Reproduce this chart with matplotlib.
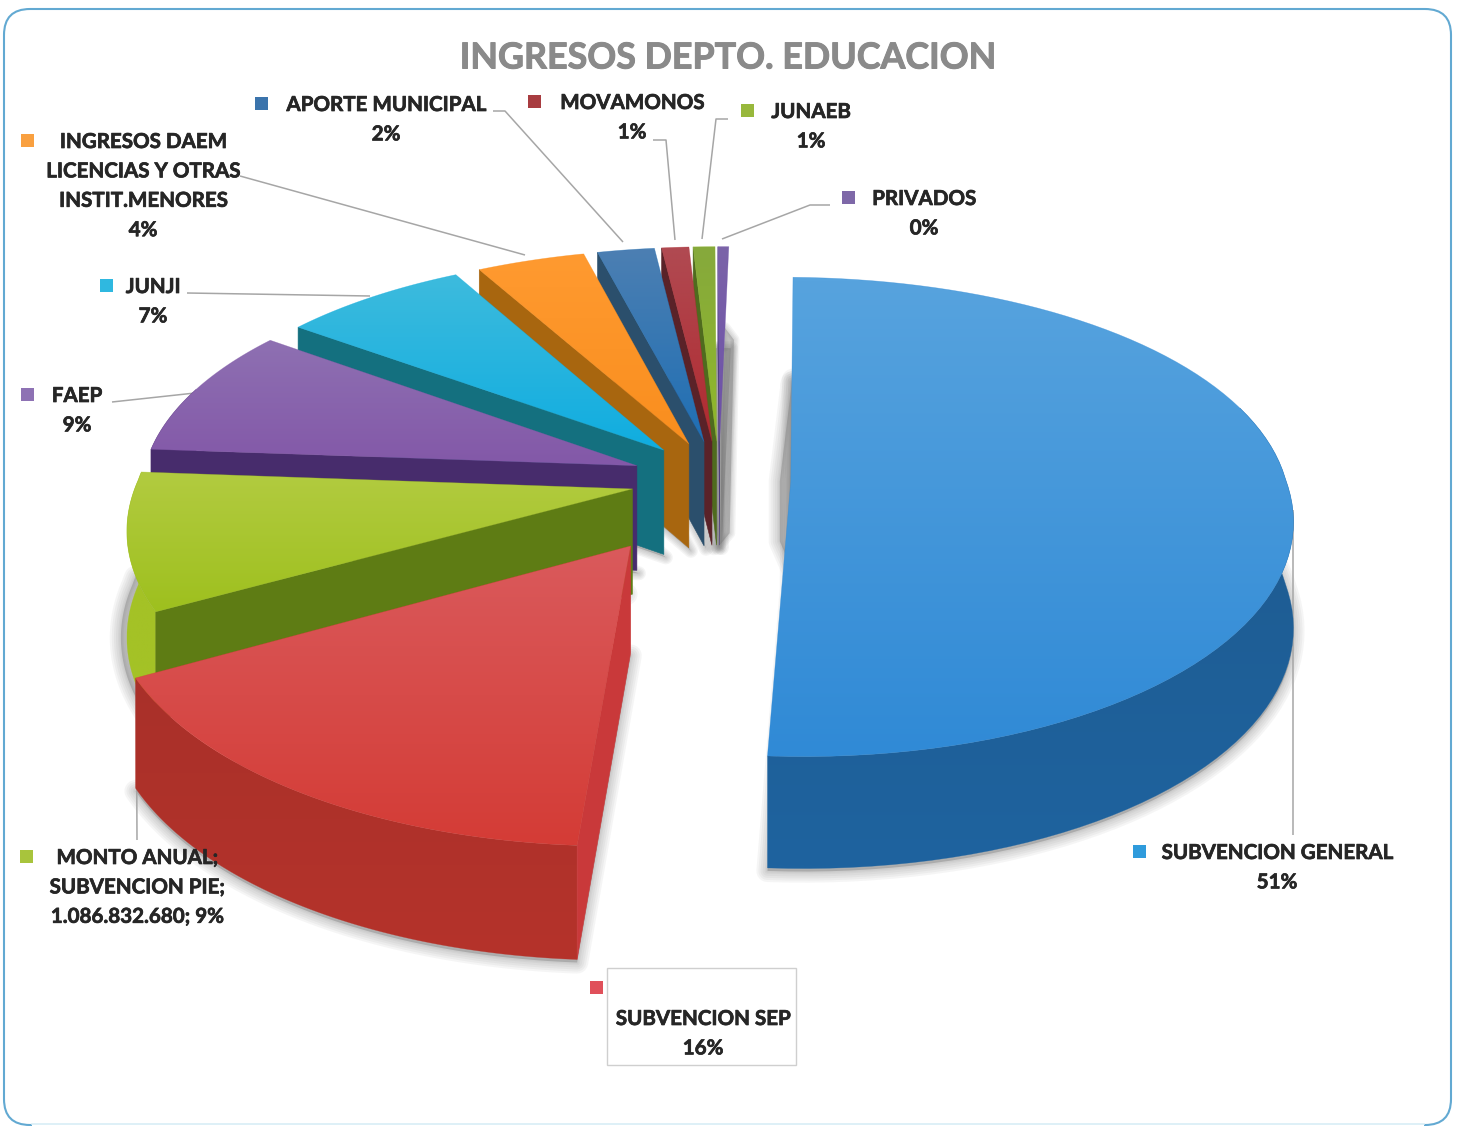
import numpy as np
import matplotlib
matplotlib.use("Agg")
import matplotlib.pyplot as plt
import matplotlib.patheffects as pe
from matplotlib.patches import Polygon, FancyBboxPatch, Rectangle
from matplotlib.colors import to_rgb

# ---- data (share of income) ----
categories = ["SUBVENCION GENERAL", "SUBVENCION SEP", "SUBVENCION PIE", "FAEP", "JUNJI",
              "INGRESOS DAEM LICENCIAS Y OTRAS INSTIT.MENORES", "APORTE MUNICIPAL",
              "MOVAMONOS", "JUNAEB", "PRIVADOS"]
values = [50.9, 16.1, 9.2, 9.0, 7.0, 4.0, 2.1, 1.0, 0.8, 0.4]
explode = [0.145, 0.32, 0.178, 0.178, 0.172, 0.17, 0.17, 0.17, 0.17, 0.17]
title = "INGRESOS DEPTO. EDUCACION"

# ---- style ----
top_hi = ["#57A3DE", "#DA5A5C", "#B2CB40", "#8E70B2", "#3DBBDD", "#FF9A30", "#4C7FB2", "#B04A52", "#86A93C", "#7B64A8"]
top_lo = ["#308AD6", "#D43C36", "#9EC01E", "#8358A8", "#10ADE0", "#F98E1E", "#1F6FB4", "#B02A30", "#90B82A", "#6C4FA8"]
cut_c = [None, "#C9393A", "#5E7C14", "#472C6C", "#14707F", "#A8660F", "#2B4F6C", "#5A2228", "#4F6B1E", "#4B3A78"]
rim_hi = ["#1F5A8E", "#A93029", "#A4C226", "#4A2F6E", "#14707F", "#A8660F", "#2B4F6C", "#5A2228", "#4F6B1E", "#4B3A78"]
rim_lo = ["#1E639F", "#B5332B", "#A4C226", "#4A2F6E", "#14707F", "#A8660F", "#2B4F6C", "#5A2228", "#4F6B1E", "#4B3A78"]
key_c = ["#2F9BDC", "#E0505A", "#A8C43C", "#8E72B4", "#2FB8E0", "#F9A040", "#3B74AC", "#A83C40", "#98B83C", "#7E68A8"]

label_lines = [
    ["SUBVENCION GENERAL", "51%"], ["SUBVENCION SEP", "16%"],
    ["MONTO ANUAL;", "SUBVENCION PIE;", "1.086.832.680; 9%"], ["FAEP", "9%"], ["JUNJI", "7%"],
    ["INGRESOS DAEM", "LICENCIAS Y OTRAS", "INSTIT.MENORES", "4%"], ["APORTE MUNICIPAL", "2%"],
    ["MOVAMONOS", "1%"], ["JUNAEB", "1%"], ["PRIVADOS", "0%"]]
label_xy = [(1277, 853), (703, 1019), (137, 858), (77, 396), (153, 287), (143, 142), (386, 105), (632, 103), (811, 112), (924, 199)]
key_xy = [(1140, 851), (597, 987), (27, 856), (28, 394), (107, 285), (28, 140), (262, 103), (535, 101), (748, 110), (849, 197)]
leaders = [
    [(1293, 835), (1293, 510)], None, [(137, 840), (136, 600)], [(112, 402), (195, 393)],
    [(187, 293), (370, 296)], [(240, 176), (525, 255)], [(493, 111), (505, 111), (623, 242)],
    [(653, 140), (666, 140), (675, 240)], [(728, 119), (716, 119), (702, 239)],
    [(830, 205), (810, 205), (722, 239)]]

# ---- projection of the exploded pie ----
W, H = 1458, 1126
CX, CY, A, B, K, K_BACK_X, DEPTH = 719, 480, 495, 234, 0.148, 0.11, 105
ROT = np.deg2rad(1.2)

fig = plt.figure(figsize=(W / 100, H / 100), dpi=100, facecolor="white")
ax = fig.add_axes([0, 0, 1, 1])
ax.set_xlim(0, W)
ax.set_ylim(H, 0)
ax.axis("off")
ax.set_autoscale_on(False)
plt.rcParams["font.family"] = ["Lato", "DejaVu Sans"]


def project(X, Y, low=False):
    X, Y = np.asarray(X, float), np.asarray(Y, float)
    w = 1 + K * Y
    wx = 1 + np.where(Y > 0, K_BACK_X, K) * Y
    sx = CX + A * X / wx
    sy = CY - B * Y / w
    if low:
        sy = sy + DEPTH / w ** 0.4
    return np.column_stack([sx, sy])


def gradient(poly, hi, lo, z):
    x0, y0 = poly.min(axis=0)
    x1, y1 = poly.max(axis=0)
    g = np.linspace(0, 1, 64)[:, None, None]
    img = (1 - g) * np.array(to_rgb(hi))[None, None, :] + g * np.array(to_rgb(lo))[None, None, :]
    im = ax.imshow(img, extent=(x0, x1, y1, y0), aspect="auto", zorder=z, interpolation="bilinear")
    im.set_clip_path(Polygon(poly, closed=True, transform=ax.transData))
    ax.add_patch(Polygon(poly, closed=True, fc="none", ec=lo, lw=0.4, alpha=0.5, zorder=z))


def soft(poly, dx, dy, z=2, widths=(16, 13, 10, 7, 4, 2), alpha=0.05):
    p = poly + np.array([dx, dy])
    for lw in widths:
        ax.add_patch(Polygon(p, closed=True, fc="none", ec="#4A4A4A", lw=lw, alpha=alpha,
                             joinstyle="round", zorder=z))
    ax.add_patch(Polygon(p, closed=True, fc="#6E6E6E", ec="none", alpha=0.35, zorder=z))


total = sum(values)
edges = np.concatenate([[0], np.cumsum(values)]) / total * 2 * np.pi + ROT
geom = []
for i, v in enumerate(values):
    a0, a1 = edges[i], edges[i + 1]
    mid = (a0 + a1) / 2
    ox, oy = explode[i] * np.sin(mid), explode[i] * np.cos(mid)
    th = np.linspace(a0, a1, 90)
    geom.append((a0, a1, ox, oy, th))

# soft shadows beneath everything
for i in range(len(values)):
    a0, a1, ox, oy, th = geom[i]
    bottom = project(np.r_[ox, ox + np.sin(th)], np.r_[oy, oy + np.cos(th)], low=True)
    if i in (0, 1):
        soft(bottom, 0, 3)
    elif i == 2:
        soft(bottom, -6, 0)
    else:
        soft(bottom, 2, 3, widths=(10, 8, 6, 4, 2), alpha=0.06)

# shadow strips beside the innermost edges of the blue slice and of the last slice
a0, a1, ox, oy, th = geom[0]
up = project([ox + 0.45 * np.sin(a0)], [oy + 0.45 * np.cos(a0)])[0]
ap = project([ox], [oy])[0]
soft(np.array([up, ap + [-11, 0], ap + [-11, 60], ap + [0, 85]]), 0, 0)
a0, a1, ox, oy, th = geom[9]
up = project([ox + 0.55 * np.sin(a1)], [oy + 0.55 * np.cos(a1)])[0]
lo = project([ox], [oy], low=True)[0]
soft(np.array([up, up + [9, 12], lo + [10, -12], lo]), 0, 0, widths=(8, 6, 4, 2), alpha=0.06)

# slices, back to front
order = [9, 8, 7, 6, 5, 4, 3, 2, 1, 0]
for n, i in enumerate(order):
    z = 10 + n * 3
    a0, a1, ox, oy, th = geom[i]
    Xs, Ys = ox + np.sin(th), oy + np.cos(th)
    top = project(np.r_[ox, Xs], np.r_[oy, Ys])
    front = np.cos(th) < 0.35
    if front.sum() > 1:
        rim = np.vstack([project(Xs[front], Ys[front]), project(Xs[front], Ys[front], low=True)[::-1]])
        gradient(rim, rim_hi[i], rim_lo[i], z)
    if cut_c[i] is not None:
        xe, ye = ox + np.sin(a0), oy + np.cos(a0)
        cut = np.vstack([project([ox, xe], [oy, ye]), project([xe, ox], [ye, oy], low=True)])
        ax.add_patch(Polygon(cut, closed=True, fc=cut_c[i], ec=cut_c[i], lw=0.4, zorder=z + 1))
    gradient(top, top_hi[i], top_lo[i], z + 2)

# frame
ax.add_patch(FancyBboxPatch((4, 9), 1447, 1116, boxstyle="round,pad=0,rounding_size=26",
                            fc="none", ec="#62A9D2", lw=1.5, zorder=1))
ax.add_patch(Rectangle((32, 1118), 1392, 8, fc="white", ec="none", zorder=1.2))
ax.plot([32, 1424], [1124, 1124], color="#D8EEF6", lw=1.2, zorder=1.3)

# title, leaders, keys, labels
bold = [pe.withStroke(linewidth=0.5, foreground="#262626")]
ax.text(728, 58, title, ha="center", va="center", fontsize=25.8, fontweight="bold", color="#8A8A8A", zorder=60,
        path_effects=[pe.withStroke(linewidth=0.7, foreground="#8A8A8A")])
for pts in leaders:
    if pts is not None:
        p = np.array(pts)
        ax.plot(p[:, 0], p[:, 1], color="#A6A6A6", lw=1.1, zorder=5, solid_capstyle="butt")
ax.add_patch(Rectangle((607, 968), 189, 97, fc="white", ec="#CFCFCF", lw=1, zorder=55))
for i, lines in enumerate(label_lines):
    kx, ky = key_xy[i]
    ax.add_patch(Rectangle((kx - 6.5, ky - 6.5), 13, 13, fc=key_c[i], ec="none", zorder=60))
    lx, ly = label_xy[i]
    for j, s in enumerate(lines):
        ax.text(lx, ly + j * 29.4, s, ha="center", va="center", fontsize=14.8, fontweight="bold",
                color="#262626", zorder=61, path_effects=bold)

fig.savefig("out.png", dpi=100, facecolor="white")
